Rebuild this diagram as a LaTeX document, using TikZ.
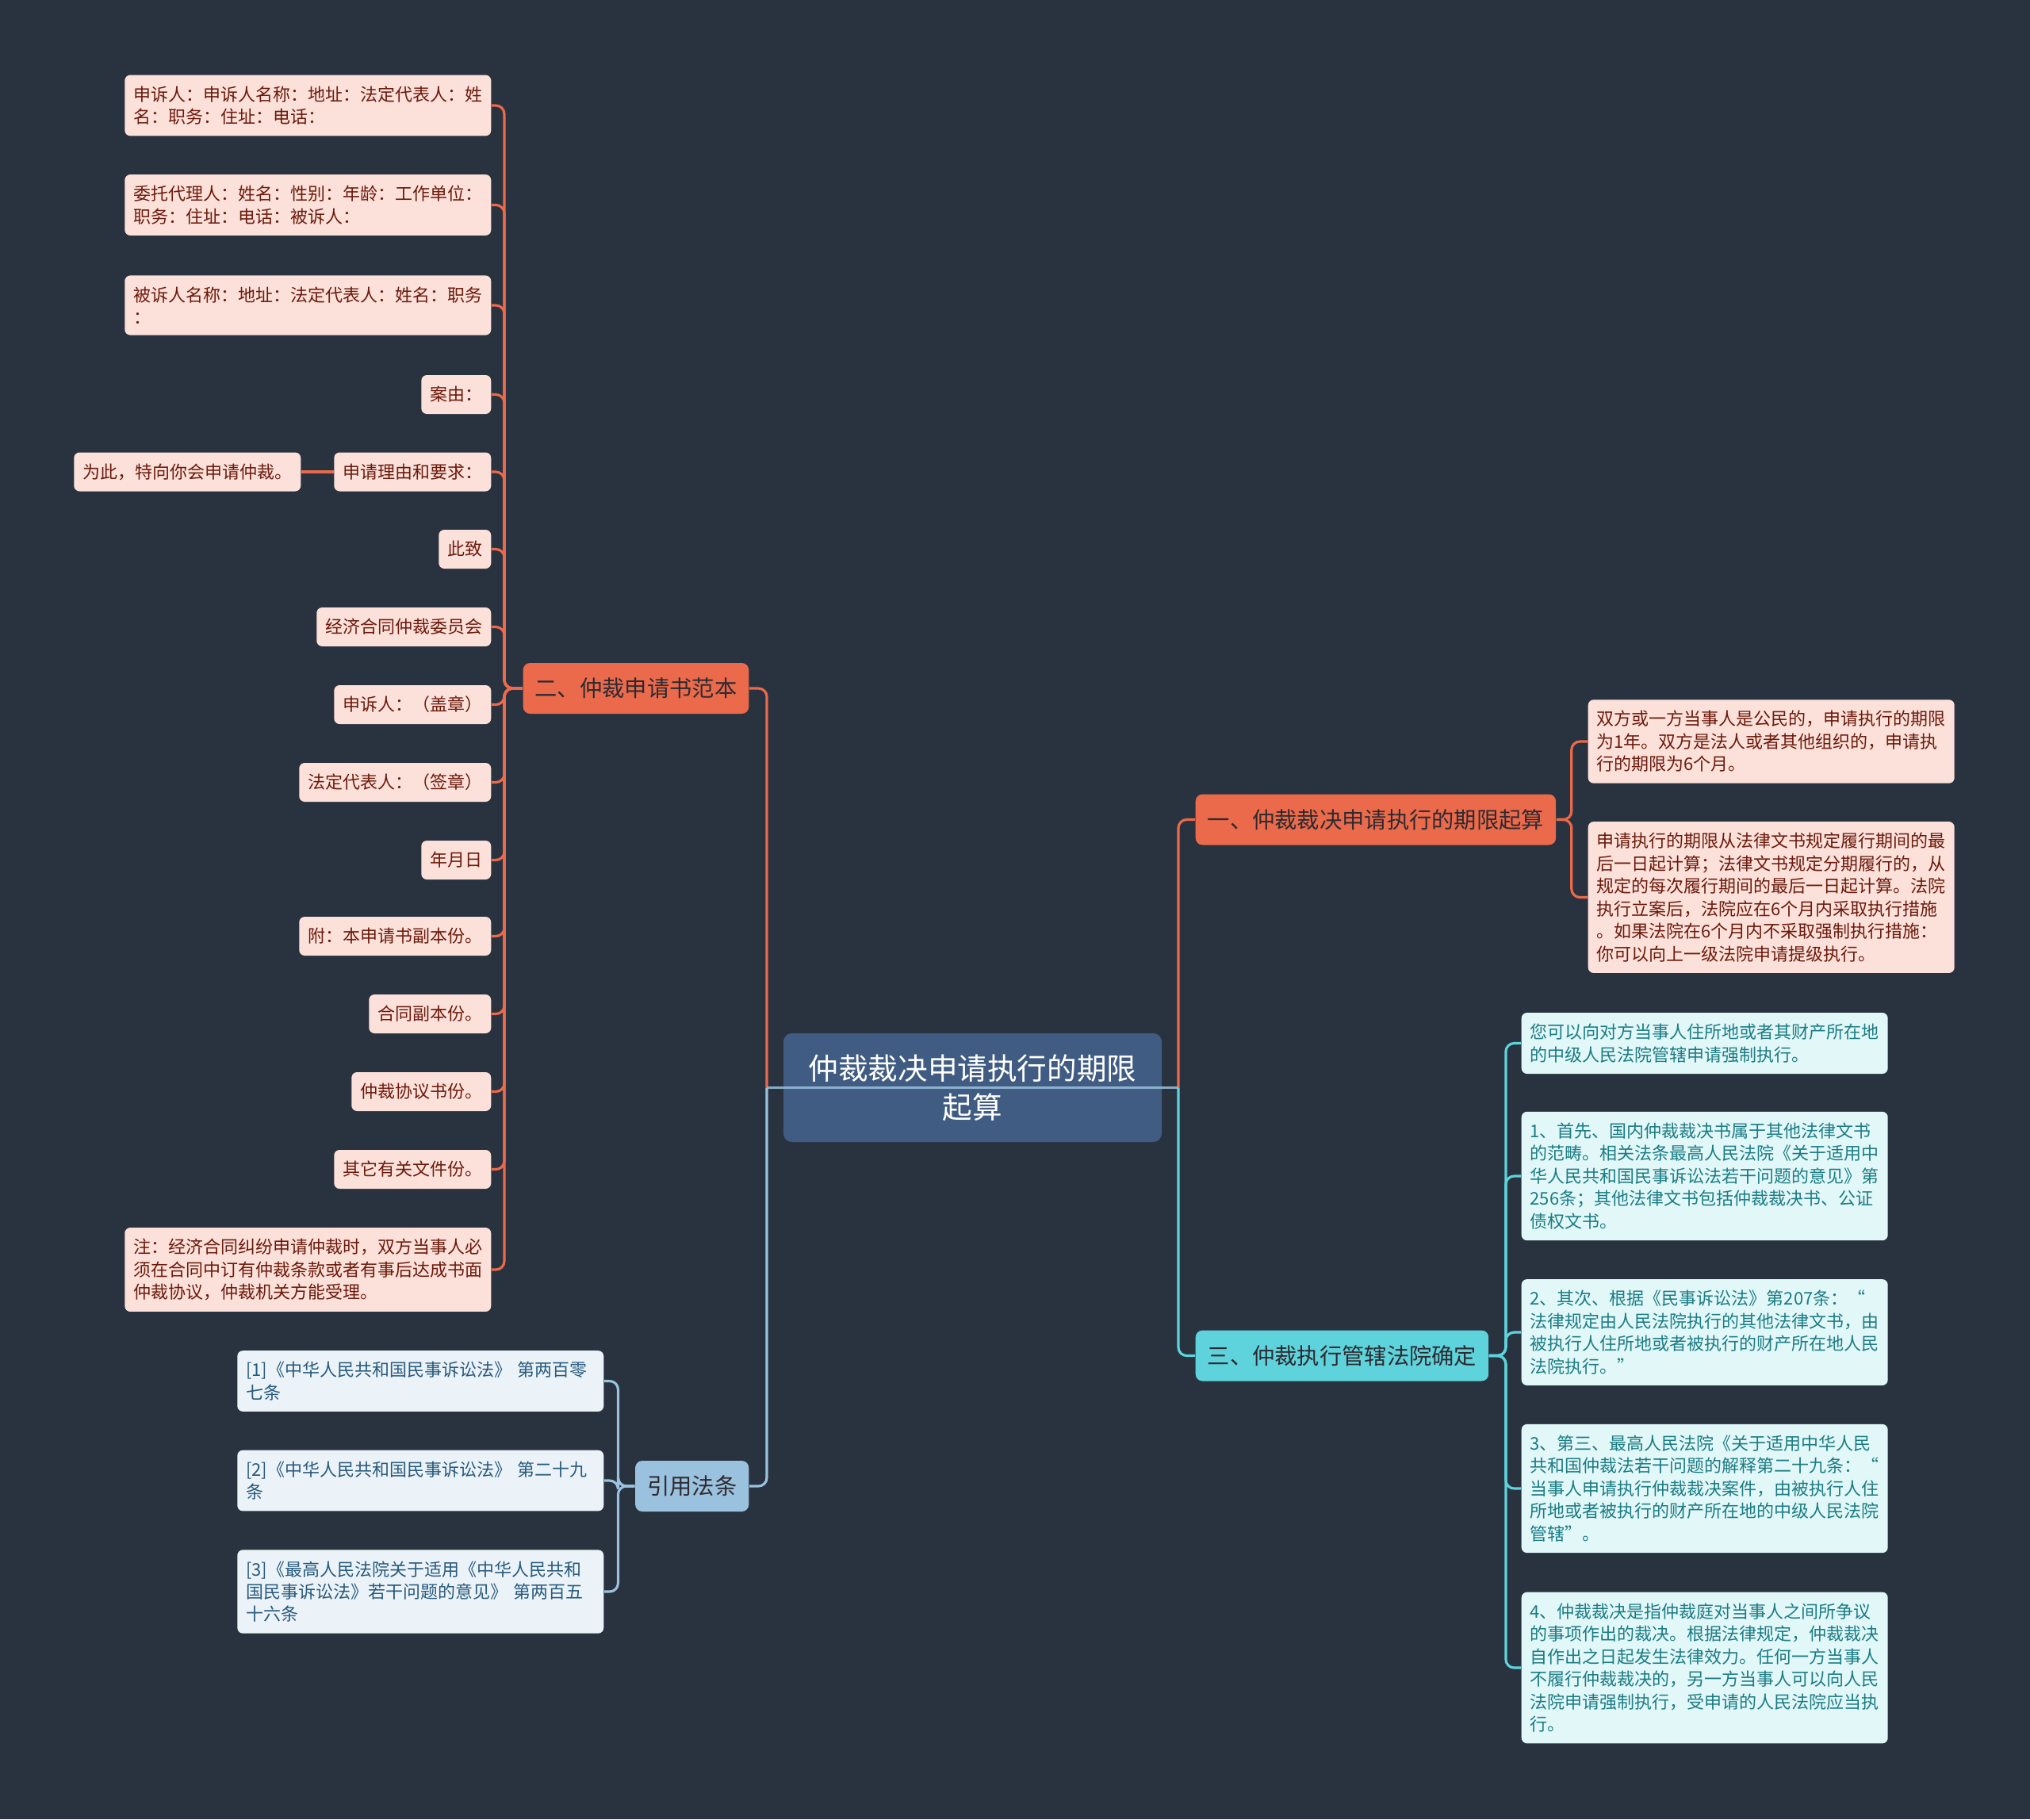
\documentclass[tikz,border=0pt]{standalone}
\usepackage{fontspec}
\setmainfont{Noto Sans CJK SC}
\usepackage{xcolor}
\usepackage{tikz}
\usetikzlibrary{positioning}
\definecolor{bgSlate}{HTML}{29323F}
\definecolor{topicBlue}{HTML}{405C82}
\definecolor{armOrange}{HTML}{EA6A4B}
\definecolor{armCyan}{HTML}{5ED3DB}
\definecolor{armBlue}{HTML}{9AC1DD}
\definecolor{leafOrange}{HTML}{FCE1DA}
\definecolor{leafCyan}{HTML}{E1F7F8}
\definecolor{leafBlue}{HTML}{EBF3F8}
\definecolor{inkOrange}{HTML}{6B1A0C}
\definecolor{inkCyan}{HTML}{1C7C84}
\definecolor{inkBlue}{HTML}{285A7D}
\definecolor{inkDark}{HTML}{2E2A30}

\begin{document}
\begin{tikzpicture}[
  leaf/.style={rounded corners=2pt,inner xsep=0.11cm,inner ysep=0.14cm,minimum height=0.49cm,
    font=\fontsize{6.26pt}{8.1pt}\selectfont},
  wide/.style={text width=4.40cm,align=left},
  leafO/.style={leaf,fill=leafOrange,text=inkOrange},
  leafC/.style={leaf,fill=leafCyan,text=inkCyan},
  leafB/.style={leaf,fill=leafBlue,text=inkBlue},
  branch/.style={rounded corners=2.5pt,inner xsep=0.15cm,minimum height=0.64cm,text=inkDark,
    font=\fontsize{8.05pt}{9pt}\selectfont},
  maintopic/.style={rounded corners=3pt,fill=topicBlue,text=white,align=center,
    minimum width=4.77cm,minimum height=1.37cm,font=\fontsize{10.7pt}{13.9pt}\selectfont},
  conO/.style={draw=armOrange,line width=0.9pt,rounded corners=3pt},
  conC/.style={draw=armCyan,line width=0.9pt,rounded corners=3pt},
  conB/.style={draw=armBlue,line width=0.9pt,rounded corners=3pt}]
\useasboundingbox (0,0) rectangle (25.60,-22.94);
\fill[bgSlate] (0,0) rectangle (25.60,-22.94);
% central topic and main branches
\node[maintopic] (main) at (12.265,-13.715) {仲裁裁决申请执行的期限\\起算};
\node[branch,fill=armOrange,anchor=east] (sec2) at (9.45,-8.68) {二、仲裁申请书范本};
\node[branch,fill=armBlue,anchor=east] (cite) at (9.45,-18.74) {引用法条};
\node[branch,fill=armOrange,anchor=west] (sec1) at (15.07,-10.335) {一、仲裁裁决申请执行的期限起算};
\node[branch,fill=armCyan,anchor=west] (sec3) at (15.07,-17.095) {三、仲裁执行管辖法院确定};
\coordinate (jl) at (9.67,-13.715);
\coordinate (jr) at (14.86,-13.715);
% left: application template
\node[leafO,wide,anchor=east] (a1) at (6.20,-1.33) {申诉人：申诉人名称：地址：法定代表人：姓\\名：职务：住址：电话：};
\node[leafO,wide,anchor=east] (a2) at (6.20,-2.585) {委托代理人：姓名：性别：年龄：工作单位：\\职务：住址：电话：被诉人：};
\node[leafO,wide,anchor=east] (a3) at (6.20,-3.85) {被诉人名称：地址：法定代表人：姓名：职务\\：};
\node[leafO,anchor=east] (a4) at (6.20,-4.975) {案由：};
\node[leafO,anchor=east] (a5) at (6.20,-5.95) {申请理由和要求：};
\node[leafO,anchor=east] (a6) at (6.20,-6.925) {此致};
\node[leafO,anchor=east] (a7) at (6.20,-7.905) {经济合同仲裁委员会};
\node[leafO,anchor=east] (a8) at (6.20,-8.885) {申诉人：（盖章）};
\node[leafO,anchor=east] (a9) at (6.20,-9.865) {法定代表人：（签章）};
\node[leafO,anchor=east] (a10) at (6.20,-10.845) {年月日};
\node[leafO,anchor=east] (a11) at (6.20,-11.805) {附：本申请书副本份。};
\node[leafO,anchor=east] (a12) at (6.20,-12.785) {合同副本份。};
\node[leafO,anchor=east] (a13) at (6.20,-13.765) {仲裁协议书份。};
\node[leafO,anchor=east] (a14) at (6.20,-14.745) {其它有关文件份。};
\node[leafO,wide,anchor=east] (a15) at (6.20,-16.01) {注：经济合同纠纷申请仲裁时，双方当事人必\\须在合同中订有仲裁条款或者有事后达成书面\\仲裁协议，仲裁机关方能受理。};
\node[leafO,anchor=east] (a5x) at (3.80,-5.95) {为此，特向你会申请仲裁。};
% left: cited laws
\node[leafB,wide,anchor=east] (c1) at (7.62,-17.415) {[1]《中华人民共和国民事诉讼法》 第两百零\\七条};
\node[leafB,wide,anchor=east] (c2) at (7.62,-18.67) {[2]《中华人民共和国民事诉讼法》 第二十九\\条};
\node[leafB,wide,anchor=east] (c3) at (7.62,-20.07) {[3]《最高人民法院关于适用《中华人民共和\\国民事诉讼法》若干问题的意见》 第两百五\\十六条};
% right: time limit
\node[leafO,wide,anchor=west] (b1) at (20.02,-9.35) {双方或一方当事人是公民的，申请执行的期限\\为1年。双方是法人或者其他组织的，申请执\\行的期限为6个月。};
\node[leafO,wide,anchor=west] (b2) at (20.02,-11.315) {申请执行的期限从法律文书规定履行期间的最\\后一日起计算；法律文书规定分期履行的，从\\规定的每次履行期间的最后一日起计算。法院\\执行立案后，法院应在6个月内采取执行措施\\。如果法院在6个月内不采取强制执行措施：\\你可以向上一级法院申请提级执行。};
% right: jurisdiction
\node[leafC,wide,anchor=west] (d1) at (19.18,-13.155) {您可以向对方当事人住所地或者其财产所在地\\的中级人民法院管辖申请强制执行。};
\node[leafC,wide,anchor=west] (d2) at (19.18,-14.83) {1、首先、国内仲裁裁决书属于其他法律文书\\的范畴。相关法条最高人民法院《关于适用中\\华人民共和国民事诉讼法若干问题的意见》第\\256条；其他法律文书包括仲裁裁决书、公证\\债权文书。};
\node[leafC,wide,anchor=west] (d3) at (19.18,-16.80) {2、其次、根据《民事诉讼法》第207条：“\\法律规定由人民法院执行的其他法律文书，由\\被执行人住所地或者被执行的财产所在地人民\\法院执行。”};
\node[leafC,wide,anchor=west] (d4) at (19.18,-18.77) {3、第三、最高人民法院《关于适用中华人民\\共和国仲裁法若干问题的解释第二十九条：“\\当事人申请执行仲裁裁决案件，由被执行人住\\所地或者被执行的财产所在地的中级人民法院\\管辖”。};
\node[leafC,wide,anchor=west] (d5) at (19.18,-21.03) {4、仲裁裁决是指仲裁庭对当事人之间所争议\\的事项作出的裁决。根据法律规定，仲裁裁决\\自作出之日起发生法律效力。任何一方当事人\\不履行仲裁裁决的，另一方当事人可以向人民\\法院申请强制执行，受申请的人民法院应当执\\行。};
% connectors
\draw[conO] (sec2.east) -| (jl);
\draw[conB] (cite.east) -| (jl);
\draw[conO] (sec1.west) -| (jr);
\draw[conC] (sec3.west) -| (jr);
\draw[conB,draw opacity=0.85] (jl) -- (jr);
\foreach \i in {1,...,15}
  \draw[conO] (sec2.west) -- ++(-0.23,0) |- (a\i.east);
\draw[conO] (a5.west) -- (a5x.east);
\foreach \i in {1,2,3}
  \draw[conB] (cite.west) -- ++(-0.21,0) |- (c\i.east);
\foreach \i in {1,2}
  \draw[conO] (sec1.east) -- ++(0.19,0) |- (b\i.west);
\foreach \i in {1,...,5}
  \draw[conC] (sec3.east) -- ++(0.21,0) |- (d\i.west);
\end{tikzpicture}
\end{document}
